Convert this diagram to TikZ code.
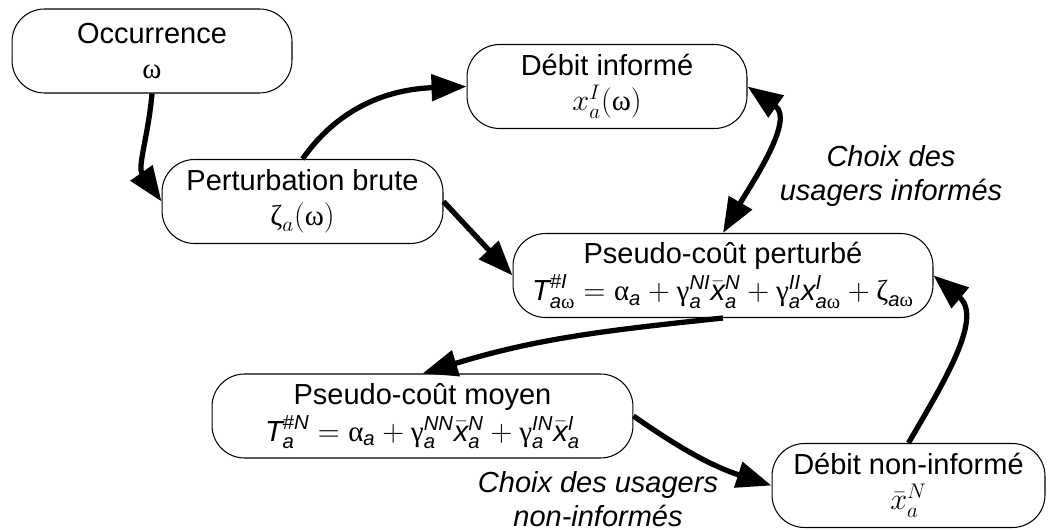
\documentclass[tikz,border=0pt]{standalone}
\usepackage{amsmath}
\usepackage{fontspec}
\setmainfont{Liberation Sans}
\newfontfamily\grkfont{Liberation Serif}
\usetikzlibrary{arrows.meta}
\newcommand{\gk}[1]{\text{\grkfont\upshape #1}}
\newcommand{\si}[1]{\text{\itshape #1}}
\begin{document}
\begin{tikzpicture}[x=0.02cm, y=-0.02cm,
        bigtip/.tip={Triangle[length=0.7cm, width=0.52cm]},
        box/.style={draw, line width=0.6pt, rounded corners=0.65cm, fill=white, minimum height=1.68cm, align=center, font=\fontsize{16.5}{20}\selectfont},
        flow/.style={-bigtip, line width=3pt},
        note/.style={align=center, inner sep=0pt, font=\fontsize{16.5}{19}\selectfont\itshape}]
        \useasboundingbox (0,0) rectangle (1050,530);

        % Boxes
        \node[box, minimum width=5.6cm] (occ) at (152,51) {Occurrence\\ \gk{ω}};
        \node[box, minimum width=5.62cm] (pert) at (302.5,201.5) {Perturbation brute\\ $\gk{ζ}_a(\gk{ω})$};
        \node[box, minimum width=5.6cm] (dinf) at (607,86.5) {Débit informé\\ $x_a^I(\gk{ω})$};
        \node[box, minimum width=8.4cm] (ppert) at (723,275.5) {Pseudo-coût perturbé\\[1pt]
            $\si{T}^{\si{\#I}}_{\si{a}\gk{ω}} = \gk{α}_{\si{a}} + \gk{γ}^{\si{NI}}_{\si{a}}\bar{\si{x}}^{\si{N}}_{\si{a}} + \gk{γ}^{\si{II}}_{\si{a}}\si{x}^{\si{I}}_{\si{a}\gk{ω}} + \gk{ζ}_{\si{a}\gk{ω}}$};
        \node[box, minimum width=8.42cm] (pmoy) at (422.5,416) {Pseudo-coût moyen\\[1pt]
            $\si{T}^{\si{\#N}}_{\si{a}} = \gk{α}_{\si{a}} + \gk{γ}^{\si{NN}}_{\si{a}}\bar{\si{x}}^{\si{N}}_{\si{a}} + \gk{γ}^{\si{IN}}_{\si{a}}\bar{\si{x}}^{\si{I}}_{\si{a}}$};
        \node[box, minimum width=5.46cm] (dnon) at (908.5,485.5) {Débit non-informé\\ $\bar{x}_a^N$};

        % Labels
        \node[note] (chinf) at (891,176) {Choix des\\usagers informés};
        \node[note] (chnon) at (598,499) {Choix des usagers\\non-informés};

        % Arrows
        \draw[flow] (occ.south) to[out=-95, in=125] (pert.west);
        \draw[flow] (pert.north) to[out=55, in=182] (dinf.west);
        \draw[flow] (pert.east) -- (ppert.west);
        \draw[flow, bigtip-bigtip] (dinf.east) to[out=-35, in=60] (ppert.north);
        \draw[flow] (ppert.south) to[out=186, in=17] (pmoy.north);
        \draw[flow] (pmoy.east) to[out=-35, in=162] (dnon.west);
        \draw[flow] (dnon.north) to[out=60, in=-40] (ppert.east);
\end{tikzpicture}
\end{document}
